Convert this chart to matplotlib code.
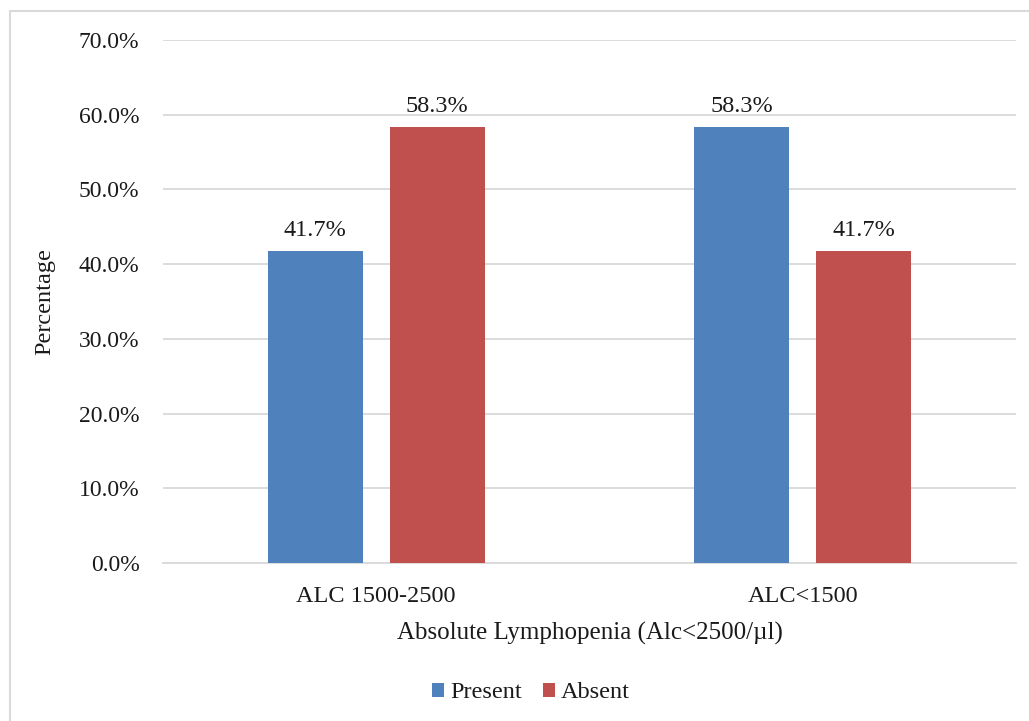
import matplotlib
matplotlib.use("Agg")
import matplotlib.pyplot as plt
from matplotlib.patches import Rectangle
from matplotlib.ticker import FuncFormatter
import numpy as np

categories = ["ALC 1500-2500", "ALC<1500"]
present = [41.7, 58.3]
absent = [58.3, 41.7]
series_names = ["Present", "Absent"]
y_ticks = [0, 10, 20, 30, 40, 50, 60, 70]

plt.rcParams["font.family"] = ["Liberation Serif", "DejaVu Serif"]

W, H = 1029, 721
fig = plt.figure(figsize=(W / 100, H / 100), dpi=100)

# chart-area frame (left and top edges visible)
fig.add_artist(Rectangle((10 / W, -0.1), 1.2, 1.1 - 11 / H,
                         transform=fig.transFigure, fill=False,
                         edgecolor="#d9d9d9", linewidth=1.5))

left, right = 163 / W, 1016 / W
top, bottom = 1 - 40 / H, 1 - 563 / H
ax = fig.add_axes([left, bottom, right - left, top - bottom])

TXT = "#1a1a1a"
FS = 17.5

x = np.arange(len(categories))
bw = 0.223
gap = 0.063
off = (bw + gap) / 2
blue, red = "#4F81BD", "#C0504D"
b1 = ax.bar(x - off, present, bw, color=blue, label=series_names[0], zorder=3)
b2 = ax.bar(x + off, absent, bw, color=red, label=series_names[1], zorder=3)

for bars, vals in ((b1, present), (b2, absent)):
    for r, v in zip(bars, vals):
        ax.annotate(f"{v:.1f}%", (r.get_x() + r.get_width() / 2, v),
                    xytext=(0, 10.8), textcoords="offset points",
                    ha="center", va="baseline", fontsize=FS, color=TXT)

ax.set_xlim(-0.5, 1.5)
ax.set_ylim(0, 70)
ax.set_yticks(y_ticks)
ax.yaxis.set_major_formatter(FuncFormatter(lambda v, p: f"{v:.1f}%"))
ax.set_xticks(x)
ax.set_xticklabels(categories)
ax.tick_params(axis="both", length=0, colors=TXT)
ax.tick_params(axis="y", pad=17, labelsize=17)
ax.tick_params(axis="x", pad=16.5, labelsize=FS)
ax.grid(axis="y", color="#d9d9d9", linewidth=1.3, zorder=0)
for s in ("top", "right", "left"):
    ax.spines[s].set_visible(False)
ax.spines["bottom"].set_color("#d9d9d9")
ax.spines["bottom"].set_linewidth(1.3)

ax.set_ylabel("Percentage", fontsize=FS, color=TXT)
ax.set_xlabel("Absolute Lymphopenia (Alc<2500/µl)", fontsize=18,
              color=TXT, labelpad=11)
ax.yaxis.set_label_coords(-0.1266, 0.5)

fig.legend(handles=[b1, b2], loc="center", bbox_to_anchor=(531 / W, 1 - 693 / H),
           ncol=2, frameon=False, fontsize=FS, handlelength=0.49,
           handleheight=0.49, handletextpad=0.25, columnspacing=0.86,
           borderpad=0, labelcolor=TXT)

fig.savefig("out.png", dpi=100, facecolor="white")
